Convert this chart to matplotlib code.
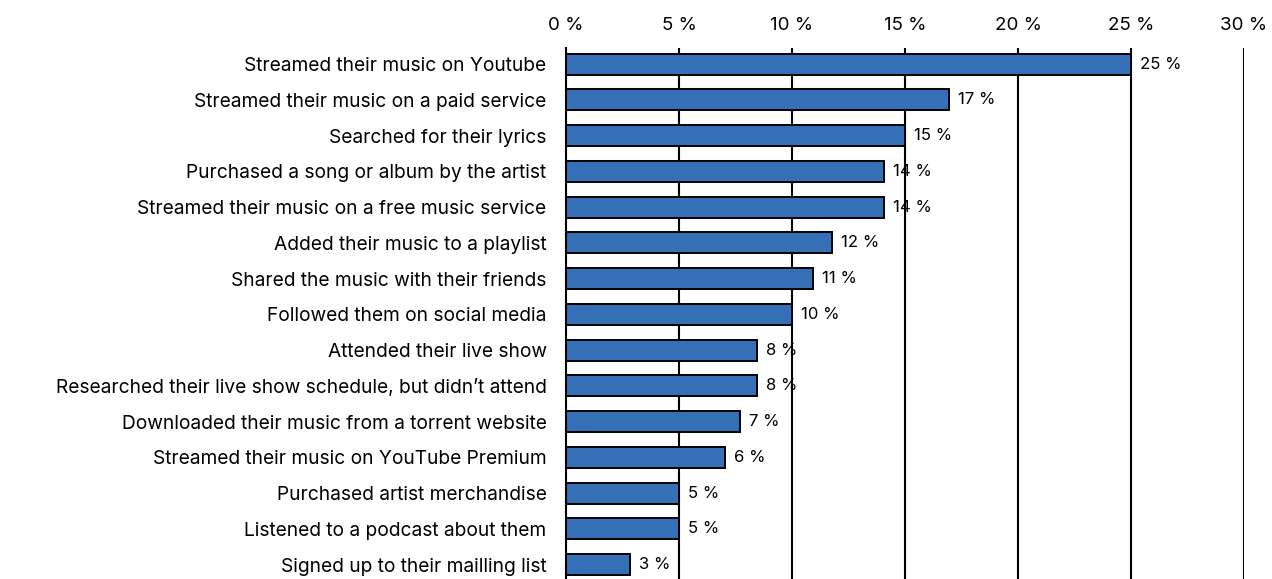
import matplotlib.pyplot as plt
import numpy as np

plt.rcParams['font.family'] = ['Inter', 'DejaVu Sans']

# actions people took after discovering an artist
handlinger = [
    "Streamed their music on Youtube",
    "Streamed their music on a paid service",
    "Searched for their lyrics",
    "Purchased a song or album by the artist",
    "Streamed their music on a free music service",
    "Added their music to a playlist",
    "Shared the music with their friends",
    "Followed them on social media",
    "Attended their live show",
    "Researched their live show schedule, but didn\u2019t attend",
    "Downloaded their music from a torrent website",
    "Streamed their music on YouTube Premium",
    "Purchased artist merchandise",
    "Listened to a podcast about them",
    "Signed up to their mailling list",
]
andel = [25.0, 16.95, 15.0, 14.07, 14.07, 11.77, 10.93, 10.0, 8.45, 8.45, 7.70, 7.04, 5.0, 5.0, 2.83]
etiketter = ["25 %", "17 %", "15 %", "14 %", "14 %", "12 %", "11 %", "10 %", "8 %", "8 %",
             "7 %", "6 %", "5 %", "5 %", "3 %"]
ticks = [0, 5, 10, 15, 20, 25, 30]

fig = plt.figure(figsize=(12.72, 5.79), dpi=100)
ax = fig.add_axes([0.445, 0.0, 0.533, 0.917])

y = np.arange(len(handlinger))
ax.barh(y, andel, height=0.59, color="#3570b7", edgecolor="black", linewidth=1.4, zorder=3)

for t in ticks[1:]:
    ax.axvline(t, color="black", linewidth=1.5, zorder=1)

for yi, v, tekst in zip(y, andel, etiketter):
    ax.text(v + 0.4, yi, tekst, va="center", ha="left", fontsize=12, zorder=4)

ax.set_xlim(0, 30)
ax.set_ylim(len(handlinger) - 0.6, -0.45)
ax.set_xticks(ticks)
ax.set_xticklabels([f"{t} %" for t in ticks], fontsize=13.5)
ax.xaxis.tick_top()
ax.tick_params(axis="x", length=0, pad=10)
ax.set_yticks(y)
ax.set_yticklabels(handlinger, fontsize=13.8)
ax.tick_params(axis="y", length=0, pad=14)

for side in ["top", "right", "bottom"]:
    ax.spines[side].set_visible(False)
ax.spines["left"].set_linewidth(1.5)
ax.spines["left"].set_zorder(5)

fig.savefig("out.png", dpi=100)
